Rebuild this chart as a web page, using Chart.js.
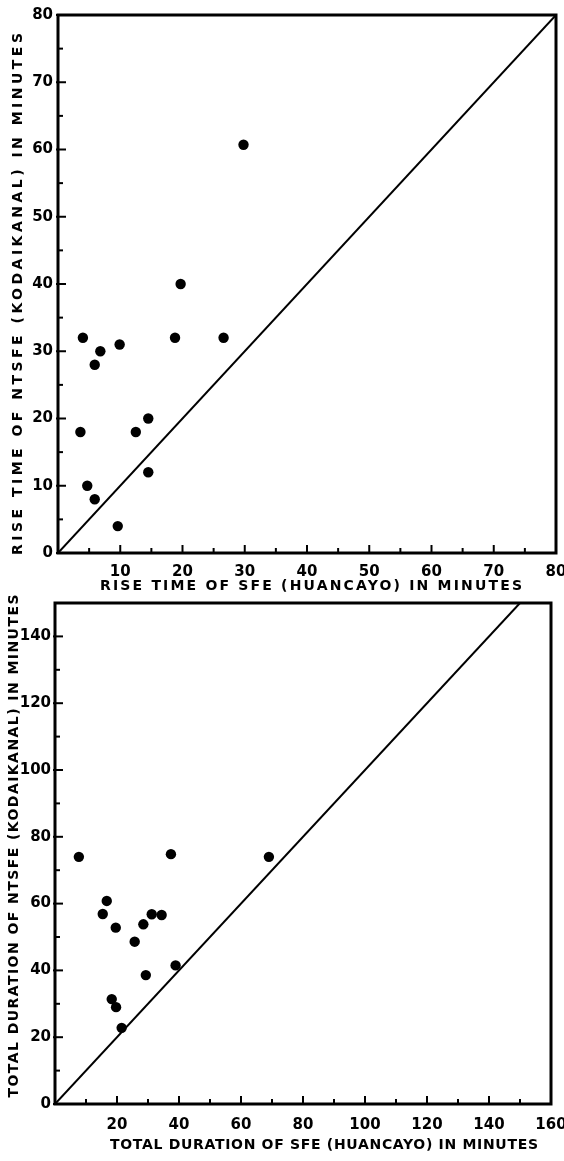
<!DOCTYPE html>
<html>
<head>
<meta charset="utf-8">
<script src="https://cdn.jsdelivr.net/npm/chart.js@4.4.0/dist/chart.umd.min.js"></script>
<style>
  html, body { margin: 0; padding: 0; background: #fff; }
  #wrap { position: relative; width: 564px; height: 1161px; overflow: hidden; }
  canvas { position: absolute; left: 0; }
  #riseChart { top: 0; }
  #durChart { top: 590px; }
</style>
</head>
<body>
<div id="wrap">
  <canvas id="riseChart" width="564" height="600"></canvas>
  <canvas id="durChart" width="564" height="571"></canvas>
</div>
<script>
// upper panel: rise time, Huancayo SFE vs Kodaikanal NTSFE (minutes)
const riseSfe    = [4, 19.7, 5.9, 6.8, 9.9, 18.8, 26.6, 3.6, 12.5, 14.5, 14.5, 4.7, 5.9, 9.6, 29.8];
const riseNtsfe  = [32, 40, 28, 30, 31, 32, 32, 18, 18, 20, 12, 10, 8, 4, 60.7];
const riseEqual  = [0, 80];

// lower panel: total duration (minutes)
const durSfe   = [7.7, 37.4, 69, 16.7, 15.4, 19.6, 28.5, 31.2, 34.4, 25.7, 29.3, 38.9, 18.3, 19.7, 21.5];
const durNtsfe = [74, 74.8, 74, 60.8, 56.9, 52.8, 53.8, 56.8, 56.6, 48.6, 38.6, 41.5, 31.4, 29, 22.8];
const durEqual = [0, 150];

const tickFont = { family: 'DejaVu Sans', weight: 'bold', size: 15 };

function pairs(xs, ys) {
  return xs.map((x, i) => ({ x: x, y: ys[i] }));
}

// draw text stretched to a given length with letter spacing
function spacedText(ctx, text, cx, cy, len, vertical) {
  ctx.save();
  ctx.translate(cx, cy);
  if (vertical) ctx.rotate(-Math.PI / 2);
  ctx.letterSpacing = '0px';
  const w = ctx.measureText(text).width;
  const sp = (len - w) / (text.length - 1);
  ctx.letterSpacing = sp + 'px';
  ctx.textAlign = 'left';
  ctx.textBaseline = 'middle';
  ctx.fillText(text, -len / 2, 0);
  ctx.restore();
}

// frame, inward tick marks and axis titles
const framePlugin = {
  id: 'frame',
  afterDraw(chart, args, opts) {
    const ctx = chart.ctx;
    const a = chart.chartArea;
    ctx.save();
    ctx.strokeStyle = '#000';
    ctx.lineWidth = 3;
    ctx.strokeRect(a.left, a.top, a.right - a.left, a.bottom - a.top);

    ctx.lineWidth = 2;
    const xs = chart.scales.x, ys = chart.scales.y;
    xs.ticks.forEach(t => {
      const px = xs.getPixelForValue(t.value);
      const major = t.value % opts.major === 0;
      ctx.beginPath();
      ctx.moveTo(px, a.bottom);
      ctx.lineTo(px, a.bottom - (major ? 8 : 5));
      ctx.stroke();
    });
    ys.ticks.forEach(t => {
      const py = ys.getPixelForValue(t.value);
      const major = t.value % opts.major === 0;
      ctx.beginPath();
      ctx.moveTo(a.left - (major ? 2 : 0), py);
      ctx.lineTo(a.left + (major ? 8 : 5), py);
      ctx.stroke();
    });

    ctx.fillStyle = '#000';
    ctx.font = 'bold ' + opts.titleSize + 'px "DejaVu Sans"';
    spacedText(ctx, opts.xTitle, opts.xt[0], opts.xt[1], opts.xt[2], false);
    spacedText(ctx, opts.yTitle, opts.yt[0], opts.yt[1], opts.yt[2], true);
    ctx.restore();
  }
};

function axis(min, max, step, major, size, pad, isX) {
  return {
    type: 'linear',
    min: min,
    max: max,
    grid: { display: false, drawTicks: false },
    border: { display: false },
    afterFit: s => {
      if (isX) s.height = size; else s.width = size;
      s.paddingLeft = 0; s.paddingRight = 0; s.paddingTop = 0; s.paddingBottom = 0;
    },
    ticks: {
      stepSize: step,
      autoSkip: false,
      maxRotation: 0,
      padding: pad,
      color: '#000',
      font: tickFont,
      callback: v => (v % major === 0 && !(isX && v === 0)) ? String(v) : ''
    }
  };
}

function makeChart(id, pts, line, sc, frameOpts, padding) {
  return new Chart(document.getElementById(id), {
    data: {
      datasets: [
        {
          type: 'scatter',
          data: pts,
          backgroundColor: '#000',
          borderWidth: 0,
          pointRadius: 5.2
        },
        {
          type: 'line',
          data: line,
          borderColor: '#000',
          borderWidth: 2,
          pointRadius: 0,
          fill: false
        }
      ]
    },
    options: {
      responsive: false,
      animation: false,
      layout: { padding: padding },
      plugins: { legend: { display: false }, tooltip: { enabled: false }, frame: frameOpts },
      scales: sc
    },
    plugins: [framePlugin]
  });
}

makeChart('riseChart',
  pairs(riseSfe, riseNtsfe),
  pairs(riseEqual, riseEqual),
  {
    x: axis(0, 80, 5, 10, 47, 10, true),
    y: axis(0, 80, 5, 10, 58, 5, false)
  },
  {
    major: 10,
    titleSize: 14,
    xTitle: 'RISE TIME OF SFE (HUANCAYO) IN MINUTES',
    yTitle: 'RISE TIME OF NTSFE (KODAIKANAL) IN MINUTES',
    xt: [311, 586, 422],
    yt: [18, 294, 522]
  },
  { left: 0, top: 15, right: 8, bottom: 0 }
);

makeChart('durChart',
  pairs(durSfe, durNtsfe),
  pairs(durEqual, durEqual),
  {
    x: axis(0, 160, 10, 20, 57, 12, true),
    y: axis(0, 150, 10, 20, 55, 4, false)
  },
  {
    major: 20,
    titleSize: 14,
    xTitle: 'TOTAL DURATION OF SFE (HUANCAYO) IN MINUTES',
    yTitle: 'TOTAL DURATION OF NTSFE (KODAIKANAL) IN MINUTES',
    xt: [324, 555, 428],
    yt: [14, 256, 503]
  },
  { left: 0, top: 13, right: 13, bottom: 0 }
);
</script>
</body>
</html>
